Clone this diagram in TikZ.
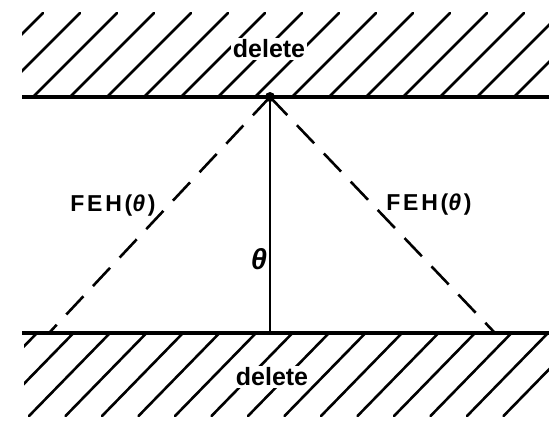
\documentclass[tikz,border=0pt]{standalone}
\usepackage{fontspec}
\setmainfont{Liberation Sans}
\newfontfamily\labfont[LetterSpace=12]{Liberation Sans}
\begin{document}
\begin{tikzpicture}[x=1pt,y=-1pt,
  hatch/.style={line width=2.6pt,line cap=round},
  wall/.style={line width=3.2pt},
  dashline/.style={line width=2.6pt,dash pattern=on 25pt off 14pt},
  tag/.style={fill=white,inner sep=1.5pt,font=\fontsize{25}{27}\selectfont\bfseries},
  fehlabel/.style={inner sep=1pt,font=\fontsize{23}{26}\selectfont\labfont\bfseries}]
\useasboundingbox (0,0) rectangle (549,423);
% hatching, top
\begin{scope}
  \clip (22,10) rectangle (549,97);
  \foreach \k in {-3,...,15} \draw[hatch] ({-4+37*\k},97) -- ++(84,-84);
\end{scope}
% hatching, bottom
\begin{scope}
  \clip (24,333) rectangle (549,420);
  \foreach \k in {-1,...,15} \draw[hatch] ({37+36.5*\k},333) -- ++(-81,83);
\end{scope}
% walls
\coordinate (tl) at (22,97);
\coordinate (tr) at (549,97);
\coordinate (bl) at (22,333);
\coordinate (br) at (549,333);
\draw[wall] (tl) -- (tr);
\draw[wall] (bl) -- (br);
% labels
\node[tag] (deltop) at (269,49) {delete};
\node[tag] (delbot) at (272,377) {delete};
% geometry
\coordinate (apex) at (270,97);
\coordinate (foot) at (270,333);
\coordinate (L) at (49,333);
\coordinate (R) at (495,333);
\draw[line width=2.8pt] (apex) -- (foot);
\draw[dashline] (apex) -- (L);
\draw[dashline] (apex) -- (R);
\fill (apex) circle (5pt);
\node[fehlabel] (fehl) at (113,206) {FEH(\textit{θ})};
\node[fehlabel] (fehr) at (429,205) {FEH(\textit{θ})};
\node[inner sep=0pt,font=\fontsize{29}{31}\selectfont\bfseries\itshape] (theta) at (259,259) {θ};
\end{tikzpicture}
\end{document}
